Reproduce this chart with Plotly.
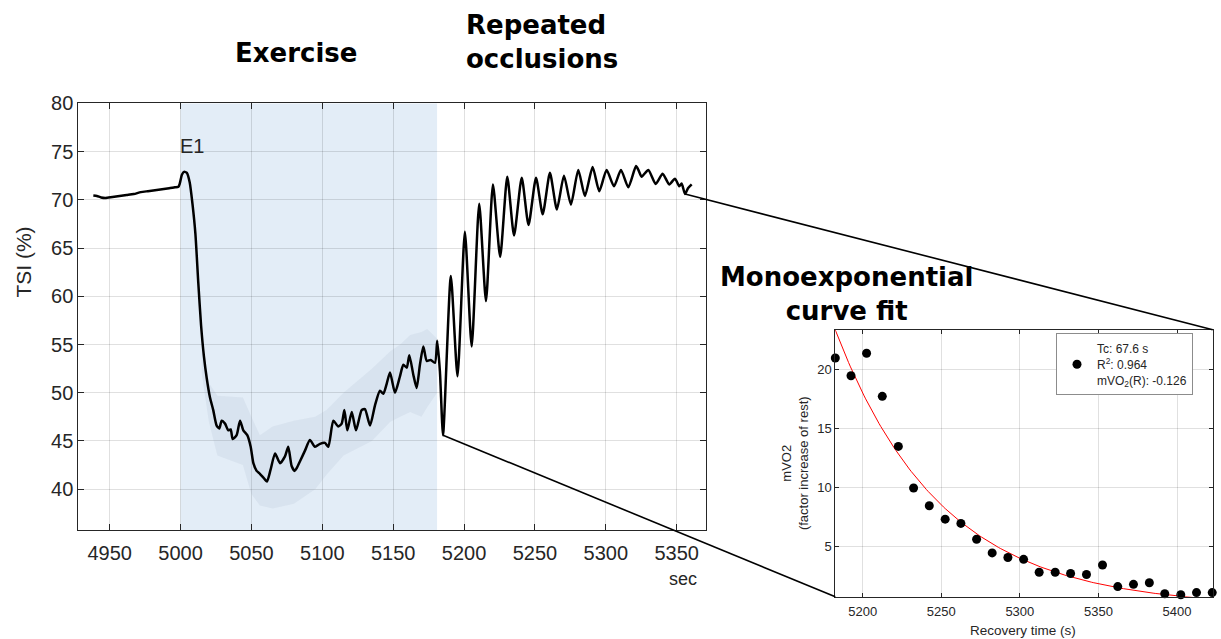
import plotly.graph_objects as go
import numpy as np

W, H = 1221, 639

# ---------------- Main TSI trace data ----------------
tsi_t = [4938.5, 4941, 4944, 4947, 4952, 4957, 4962, 4967, 4972, 4977, 4982, 4987, 4992, 4996,
         4998.5, 4999.5, 5001, 5002.5, 5004.5, 5006.5, 5008.5, 5010.5, 5012.5, 5014.5, 5016.5,
         5018.5, 5020.8, 5023.1, 5025.5, 5027.4, 5029, 5031.4, 5033.7, 5035.4, 5036.8, 5039.6,
         5042, 5044.3, 5047.1, 5049.5, 5051.4, 5053.7, 5056, 5058.5, 5061, 5063.5, 5066.7,
         5070.2, 5073.7, 5076, 5078.4, 5080.5, 5082, 5084.3, 5087.8, 5091.3, 5094.9, 5098.4,
         5101.9, 5104.3, 5107.8, 5111.3, 5113.7, 5115.6, 5117.7, 5120.8, 5123.8, 5127.8,
         5130.1, 5133.7, 5137.2, 5140.7, 5143.1, 5145.4, 5147.8, 5151.3, 5154.8, 5157.2,
         5159.6, 5161.4, 5164.2, 5166.6, 5168.9, 5171.3, 5173.7, 5176.5, 5179.5, 5181.1, 5183,
         5185.2,
         5190.7, 5195.4, 5200.6, 5205.4, 5210.7, 5215.5, 5220.4, 5225.5, 5230.5, 5235.3,
         5240.7, 5245.5, 5250.8, 5255.5, 5260.6, 5265.5, 5270.5, 5275.4, 5280.6, 5285.3,
         5290.7, 5295.4, 5300.6, 5305.8, 5310.7, 5315.9, 5321.3, 5323, 5325.3, 5330, 5335.2,
         5340.1, 5344.8, 5348.8, 5351.8, 5353.5, 5355.9, 5358, 5360.6]
tsi_v = [70.45, 70.4, 70.25, 70.2, 70.3, 70.4, 70.5, 70.6, 70.8, 70.9, 71.0, 71.1, 71.2, 71.3,
         71.35, 71.7, 72.6, 72.9, 72.8, 71.8, 69.5, 66.5, 61.5, 57.0, 53.8,
         51.5, 49.5, 48.2, 46.6, 46.3, 47.1, 46.8, 46.1, 46.2, 45.2, 45.6,
         47.1, 46.1, 45.6, 44.4, 42.7, 41.9, 41.6, 41.2, 40.8, 42.0, 43.7,
         42.7, 43.4, 44.4, 42.4, 41.9, 42.2, 42.9, 44.0, 45.1, 44.4, 44.7,
         44.8, 44.4, 47.1, 46.5, 46.8, 48.2, 46.1, 48.0, 46.1, 48.2,
         48.3, 46.6, 48.7, 50.2, 49.9, 50.9, 52.1, 50.0, 51.7, 52.9,
         52.6, 53.9, 51.9, 50.5, 52.9, 54.8, 53.3, 53.4, 53.1, 55.4, 52.2,
         45.6,
         62.1, 51.7, 66.7, 54.8, 69.6, 59.5, 71.6, 64.1, 72.4, 66.3,
         72.3, 67.4, 72.3, 68.5, 72.8, 69.0, 72.5, 69.5, 73.1, 70.4,
         73.4, 70.9, 73.1, 71.4, 73.1, 71.3, 73.5, 73.1, 72.4, 73.1, 71.65,
         72.7, 71.6, 72.2, 71.4, 71.7, 70.6, 71.2, 71.6]

# raw-signal spread during exercise (envelope)
band_t = [5015, 5020, 5026, 5035, 5044, 5050, 5056, 5065, 5080, 5095, 5103, 5115, 5122, 5135,
          5148, 5155, 5162, 5170, 5174, 5181]
band_hi = [56, 51, 49.7, 49.6, 49.5, 47.5, 45.6, 46.5, 47.1, 47.5, 48.2, 50, 50.9, 52.5,
           54.3, 55, 56.0, 56.3, 56.6, 55.6]
band_lo = [52, 47, 43.5, 43, 42.5, 39.5, 38.3, 38, 38.5, 40, 41.5, 43.5, 44, 45,
           47, 47.5, 48, 47.5, 48.5, 50]

exercise_start, exercise_end = 5000, 5181
main_xticks = [4950, 5000, 5050, 5100, 5150, 5200, 5250, 5300, 5350]
main_yticks = [40, 45, 50, 55, 60, 65, 70, 75, 80]

# ---------------- Inset: recovery mVO2 ----------------
rec_t = [5182.6, 5192.6, 5202.5, 5212.5, 5222.7, 5232.4, 5242.4, 5252.5, 5262.5, 5272.5,
         5282.4, 5292.4, 5302.4, 5312.3, 5322.5, 5332.3, 5342.4, 5352.6, 5362.3, 5372.3,
         5382.4, 5392.2, 5402.4, 5412.4, 5422.4]
rec_mvo2 = [21.0, 19.5, 21.4, 17.75, 13.5, 9.97, 8.47, 7.33, 6.97, 5.63,
            4.47, 4.08, 3.92, 2.83, 2.83, 2.72, 2.64, 3.44, 1.61, 1.8,
            1.94, 1.0, 0.92, 1.1, 1.1]
fit_tc = 67.6
fit_amp = 23.5
fit_offset = -0.126
fit_r2 = 0.964
inset_xticks = [5200, 5250, 5300, 5350, 5400]
inset_yticks = [5, 10, 15, 20]

# ---------------- geometry ----------------
main_dom_x = [78.3 / W, 706 / W]
main_dom_y = [1 - 528.3 / H, 1 - 94 / H]
main_rx = [4927.9, 5370.7]
main_ry = [35.75, 80]
ins_dom_x = [835.3 / W, 1212.7 / W]
ins_dom_y = [1 - 596 / H, 1 - 324.3 / H]
ins_rx = [5182.6, 5422.7]
ins_ry = [0.75, 23.4]


def to_paper(v, rng, dom):
    return dom[0] + (v - rng[0]) / (rng[1] - rng[0]) * (dom[1] - dom[0])


axis_col = '#262626'
grid_col = 'rgba(0,0,0,0.12)'
tick_font = dict(family='Liberation Sans, Arial, sans-serif', size=20, color=axis_col)

fig = go.Figure()

# noise band
fig.add_trace(go.Scatter(x=band_t + band_t[::-1], y=band_hi + band_lo[::-1], fill='toself',
                         fillcolor='rgba(150,165,185,0.13)', line=dict(width=0),
                         mode='lines', hoverinfo='skip', showlegend=False,
                         xaxis='x', yaxis='y'))
# main trace
fig.add_trace(go.Scatter(x=tsi_t, y=tsi_v, mode='lines',
                         line=dict(color='black', width=2.5, shape='spline', smoothing=0.6),
                         showlegend=False, xaxis='x', yaxis='y'))

# inset fit
fit_x = np.linspace(ins_rx[0], ins_rx[1], 200)
fit_y = fit_amp * np.exp(-(fit_x - ins_rx[0]) / fit_tc) + fit_offset
fig.add_trace(go.Scatter(x=fit_x, y=fit_y, mode='lines', line=dict(color='red', width=1),
                         showlegend=False, xaxis='x2', yaxis='y2'))
legend_name = (f"Tc: {fit_tc} s<br>R<sup>2</sup>: {fit_r2}<br>"
               f"mVO<sub>2</sub>(R): {fit_offset}")
fig.add_trace(go.Scatter(x=rec_t, y=rec_mvo2, mode='markers',
                         marker=dict(color='black', size=9), cliponaxis=False,
                         name=legend_name, showlegend=True, xaxis='x2', yaxis='y2'))

shapes = []
# exercise shading
shapes.append(dict(type='rect', xref='x', yref='y domain', x0=exercise_start, x1=exercise_end,
                   y0=0, y1=1, fillcolor='#E3EDF7', line=dict(width=0), layer='below'))
# connector lines
i_min = tsi_t.index(5185.2)
i_end = tsi_t.index(5355.9)
shapes.append(dict(type='line', xref='paper', yref='paper',
                   x0=to_paper(tsi_t[i_end], main_rx, main_dom_x),
                   y0=to_paper(tsi_v[i_end], main_ry, main_dom_y),
                   x1=ins_dom_x[1], y1=ins_dom_y[1], line=dict(color='black', width=1.6)))
shapes.append(dict(type='line', xref='paper', yref='paper',
                   x0=to_paper(tsi_t[i_min], main_rx, main_dom_x),
                   y0=to_paper(tsi_v[i_min], main_ry, main_dom_y),
                   x1=ins_dom_x[0], y1=ins_dom_y[0], line=dict(color='black', width=1.6)))

title_font = dict(family='DejaVu Sans, Verdana, sans-serif', size=26, color='black')
annotations = [
    dict(text='<b>Exercise</b>', x=296 / W, y=1 - 43 / H, xref='paper', yref='paper',
         showarrow=False, font=title_font, xanchor='center', yanchor='middle'),
    dict(text='<b>Repeated<br>occlusions</b>', x=464 / W, y=1 - 32 / H, xref='paper', yref='paper',
         showarrow=False, font=title_font, xanchor='left', yanchor='middle', align='left'),
    dict(text='<b>Monoexponential<br>curve fit</b>', x=846 / W, y=1 - 288 / H, xref='paper',
         yref='paper', showarrow=False, font=title_font, xanchor='center', yanchor='middle',
         align='center'),
    dict(text='E1', x=5008, y=75.6, xref='x', yref='y', showarrow=False,
         xanchor='center', yanchor='middle',
         font=dict(family='Liberation Sans, Arial', size=20, color=axis_col)),
    dict(text='TSI (%)', x=24 / W, y=1 - 256 / H, xref='paper', yref='paper', showarrow=False,
         xanchor='center', yanchor='middle', textangle=-90,
         font=dict(family='Liberation Sans, Arial', size=21, color=axis_col)),
    dict(text='sec', x=683 / W, y=1 - 578 / H, xref='paper', yref='paper', showarrow=False,
         xanchor='center', yanchor='middle',
         font=dict(family='Liberation Sans, Arial', size=18, color=axis_col)),
    dict(text='mVO2<br>(factor increase of rest)', x=795 / W, y=1 - 460 / H, xref='paper',
         yref='paper', showarrow=False, textangle=-90, xanchor='center', yanchor='middle',
         font=dict(family='Liberation Sans, Arial', size=13, color=axis_col)),
    dict(text='Recovery time (s)', x=1023 / W, y=1 - 630 / H, xref='paper', yref='paper',
         showarrow=False, xanchor='center', yanchor='middle',
         font=dict(family='Liberation Sans, Arial', size=13.5, color=axis_col)),
]

common_axis = dict(showline=True, linecolor=axis_col, linewidth=1, mirror='allticks',
                   ticks='inside', tickcolor=axis_col, showgrid=True, gridcolor=grid_col,
                   gridwidth=1, zeroline=False)

fig.update_layout(
    width=W, height=H, margin=dict(l=0, r=0, t=0, b=0),
    paper_bgcolor='white', plot_bgcolor='white',
    xaxis=dict(domain=main_dom_x, range=main_rx, tickvals=main_xticks, ticklen=6,
               tickfont=tick_font, anchor='y', ticklabelstandoff=5, **common_axis),
    yaxis=dict(domain=main_dom_y, range=main_ry, tickvals=main_yticks, ticklen=6,
               tickfont=tick_font, anchor='x', **common_axis),
    xaxis2=dict(domain=ins_dom_x, range=ins_rx, tickvals=inset_xticks, ticklen=4,
                tickfont=dict(family='Liberation Sans, Arial', size=13, color=axis_col),
                anchor='y2', ticklabelstandoff=3, **common_axis),
    yaxis2=dict(domain=ins_dom_y, range=ins_ry, tickvals=inset_yticks, ticklen=4,
                tickfont=dict(family='Liberation Sans, Arial', size=13, color=axis_col),
                anchor='x2', **common_axis),
    shapes=shapes, annotations=annotations,
    legend=dict(x=1056 / W, y=1 - 328 / H, xanchor='left', yanchor='top',
                bgcolor='white', bordercolor='#8c8c8c', borderwidth=1,
                font=dict(family='Liberation Sans, Arial', size=12, color=axis_col)),
)

fig.write_html("out.html")
